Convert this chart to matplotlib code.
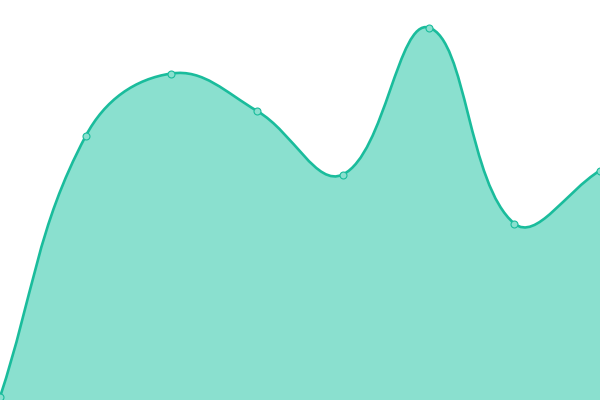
import numpy as np
import matplotlib
matplotlib.use('Agg')
import matplotlib.pyplot as plt
from matplotlib.path import Path
from matplotlib.patches import PathPatch

# values (height above the bottom, px-like units)
labels = ['1', '2', '3', '4', '5', '6', '7', '8']
values = [3, 264, 326.5, 289, 225.5, 372.5, 176.5, 229.5]

line_color = '#1abc9c'
fill_color = '#8ae0cf'
tension = 0.4

fig = plt.figure(figsize=(6, 4), dpi=100)
ax = fig.add_axes([0, 0, 1, 1])
ax.set_xlim(0, len(values) - 1)
ax.set_ylim(0, 400)
ax.axis('off')

x = np.arange(len(values), dtype=float)
y = np.array(values, dtype=float)

# work in pixel space so the spline tension looks like the original
pts = ax.transData.transform(np.column_stack([x, y]))
n = len(pts)
c_prev = np.zeros_like(pts)
c_next = np.zeros_like(pts)
for i in range(n):
    p0 = pts[max(i - 1, 0)]
    p1 = pts[i]
    p2 = pts[min(i + 1, n - 1)]
    d01 = np.hypot(*(p1 - p0))
    d12 = np.hypot(*(p2 - p1))
    tot = d01 + d12
    s01 = d01 / tot if tot else 0
    s12 = d12 / tot if tot else 0
    c_prev[i] = p1 - tension * s01 * (p2 - p0)
    c_next[i] = p1 + tension * s12 * (p2 - p0)

# keep control points inside the figure
lo = ax.transData.transform((0, 0))
hi = ax.transData.transform((n - 1, 400))
for c in (c_prev, c_next):
    c[:, 0] = np.clip(c[:, 0], lo[0], hi[0])
    c[:, 1] = np.clip(c[:, 1], lo[1], hi[1])

inv = ax.transData.inverted()
verts = [pts[0]]
codes = [Path.MOVETO]
for i in range(n - 1):
    verts += [c_next[i], c_prev[i + 1], pts[i + 1]]
    codes += [Path.CURVE4] * 3
verts = inv.transform(np.array(verts))

fill_verts = np.vstack([verts, [[x[-1], 0], [x[0], 0], verts[0]]])
fill_codes = codes + [Path.LINETO, Path.LINETO, Path.CLOSEPOLY]
ax.add_patch(PathPatch(Path(fill_verts, fill_codes), facecolor=fill_color,
                       edgecolor='none', zorder=1))
ax.add_patch(PathPatch(Path(verts, codes), facecolor='none',
                       edgecolor=line_color, lw=1.9, zorder=2))

ax.plot(x, y, 'o', ms=5, mfc=fill_color, mec=line_color, mew=0.8,
        zorder=3, clip_on=False)

fig.savefig('out.png', dpi=100)
